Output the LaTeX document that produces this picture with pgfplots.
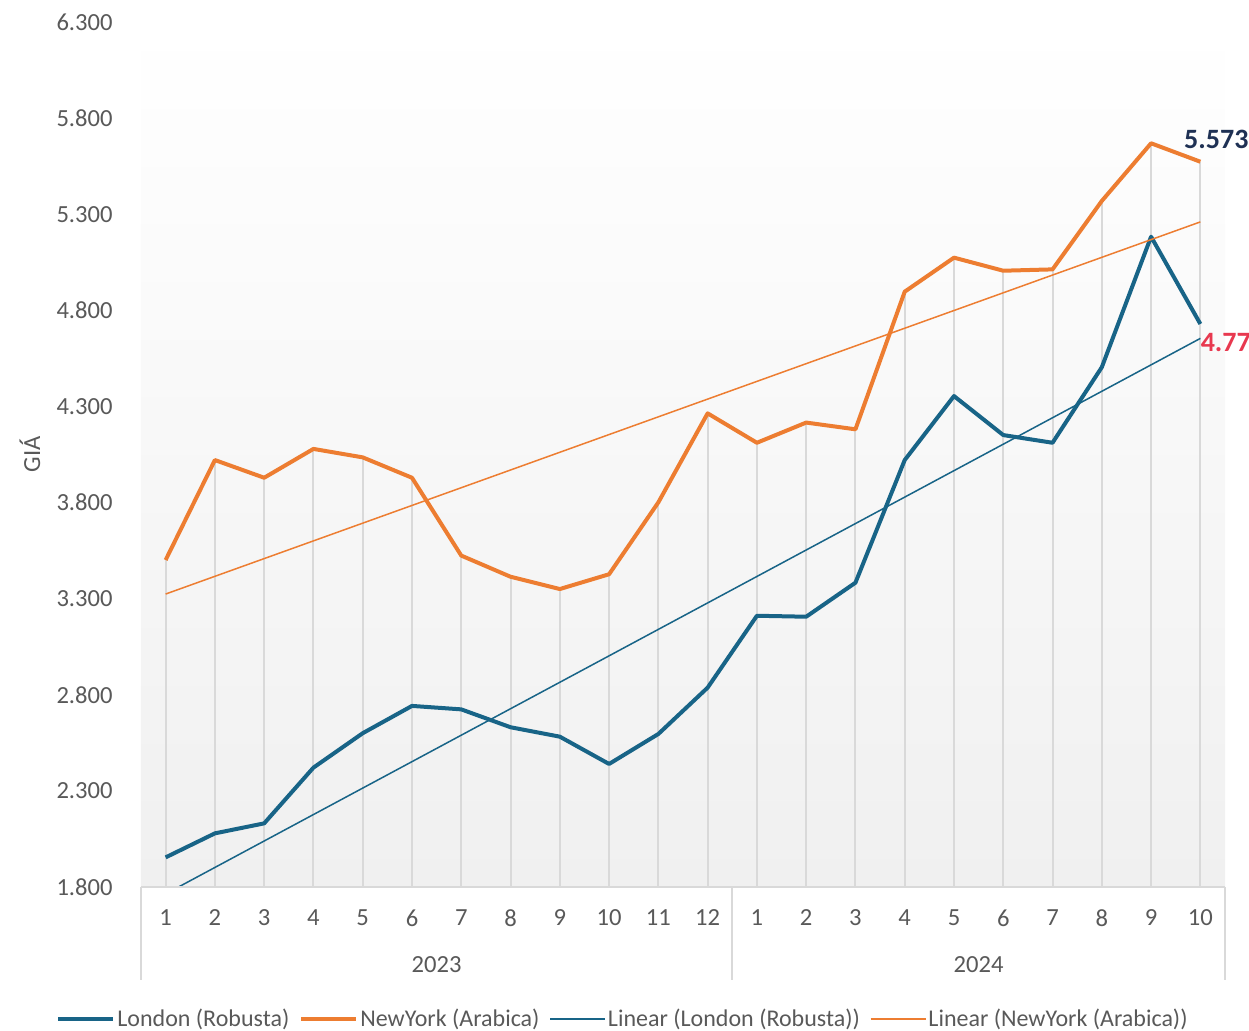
\documentclass[border=0pt]{standalone}
\usepackage{pgfplots}
\pgfplotsset{compat=1.18}
\usepackage{pgfplotstable}
\usepackage{fontspec}
\setmainfont{Carlito}
\definecolor{lblue}{RGB}{24,100,135}
\definecolor{nyor}{RGB}{237,125,49}
\definecolor{txtgray}{RGB}{89,89,89}
\definecolor{gridgray}{RGB}{217,217,217}
\definecolor{navy}{RGB}{31,49,84}
\definecolor{redlab}{RGB}{232,56,79}
\definecolor{bgbot}{RGB}{240,240,240}

\pgfplotstableread{
x lon ny
1 1954 3501
2 2079 4021
3 2131 3929
4 2421 4079
5 2600 4035
6 2742 3929
7 2724 3524
8 2631 3414
9 2582 3350
10 2440 3427
11 2596 3801
12 2837 4264
13 3211 4111
14 3206 4216
15 3383 4181
16 4021 4897
17 4354 5074
18 4151 5006
19 4111 5013
20 4504 5369
21 5183 5669
22 4729 5573
}\datatbl

\pgfplotstableread{
x lon ny
1 1764 3324
22 4654 5260
}\trendtbl

\newcommand{\tfont}{\fontsize{12.3}{15}\selectfont}
\newcommand{\lfont}{\fontsize{12}{15}\selectfont}

\begin{document}
\begin{tikzpicture}
\begin{axis}[
  name=ax, at={(0,0)}, anchor=south west,
  width=542pt, height=432.5pt, scale only axis,
  xmin=0.5, xmax=22.5, ymin=1800, ymax=6300,
  ytick={1800,2300,...,6300},
  xtick={1,...,22},
  xticklabels={1,2,3,4,5,6,7,8,9,10,11,12,1,2,3,4,5,6,7,8,9,10},
  major tick length=0pt,
  axis line style={draw=none},
  tick label style={font=\tfont, text=txtgray},
  yticklabel style={anchor=east, inner sep=0pt, xshift=-14pt,
    /pgf/number format/.cd, 1000 sep={.}, assume math mode=true},
  xticklabel style={anchor=center, inner sep=0pt, yshift=-15.5pt},
  clip mode=individual,
  axis background/.style={top color=white, bottom color=bgbot},
  legend style={at={(0.4437,-0.1526)}, anchor=center, draw=none, fill=none,
    font=\lfont, text=txtgray, inner sep=0pt,
    nodes={inner sep=0pt},
    /tikz/every odd column/.append style={column sep=1pt},
    /tikz/every even column/.append style={column sep=5pt}},
  legend columns=-1,
  legend image code/.code={\draw[#1] (0pt,0pt) -- (27.5pt,0pt);},
]
% drop lines
\addplot[ycomb, gridgray, line width=1pt, forget plot] table[x=x, y=ny] {\datatbl};
% series
\addplot[lblue, line width=2pt, line join=round] table[x=x, y=lon] {\datatbl};
\addlegendentry{London (Robusta)}
\addplot[nyor, line width=2pt, line join=round] table[x=x, y=ny] {\datatbl};
\addlegendentry{NewYork (Arabica)}
\addplot[lblue, line width=0.75pt] table[x=x, y=lon] {\trendtbl};
\addlegendentry{Linear (London (Robusta))}
\addplot[nyor, line width=0.75pt] table[x=x, y=ny] {\trendtbl};
\addlegendentry{Linear (NewYork (Arabica))}

\draw[gridgray, line width=1pt] (axis cs:0.5,1800) -- (axis cs:22.5,1800);
\draw[gridgray, line width=1pt] (axis cs:0.5,1800) -- ++(0pt,-46.5pt);
\draw[gridgray, line width=1pt] (axis cs:12.5,1800) -- ++(0pt,-46.5pt);
\draw[gridgray, line width=1pt] (axis cs:22.5,1800) -- ++(0pt,-46.5pt);
\node[font=\tfont, text=txtgray, yshift=-39pt] at (axis cs:6.5,1800) {2023};
\node[font=\tfont, text=txtgray, yshift=-39pt] at (axis cs:17.5,1800) {2024};

\node[font=\fontsize{14}{16}\selectfont\bfseries, text=navy, xshift=8pt, yshift=11pt, inner sep=0pt] at (axis cs:22,5573) {5.573};
\node[font=\fontsize{14}{16}\selectfont\bfseries, text=redlab, anchor=west, yshift=-9.5pt, inner sep=0pt] at (axis cs:22,4729) {4.77};
\end{axis}
\node[rotate=90, font=\tfont, text=txtgray] at ([xshift=-55.5pt]ax.west) {GIÁ};
\pgfresetboundingbox
\path (-70.5pt,-72pt) rectangle (554pt,443.5pt);
\end{tikzpicture}
\end{document}
